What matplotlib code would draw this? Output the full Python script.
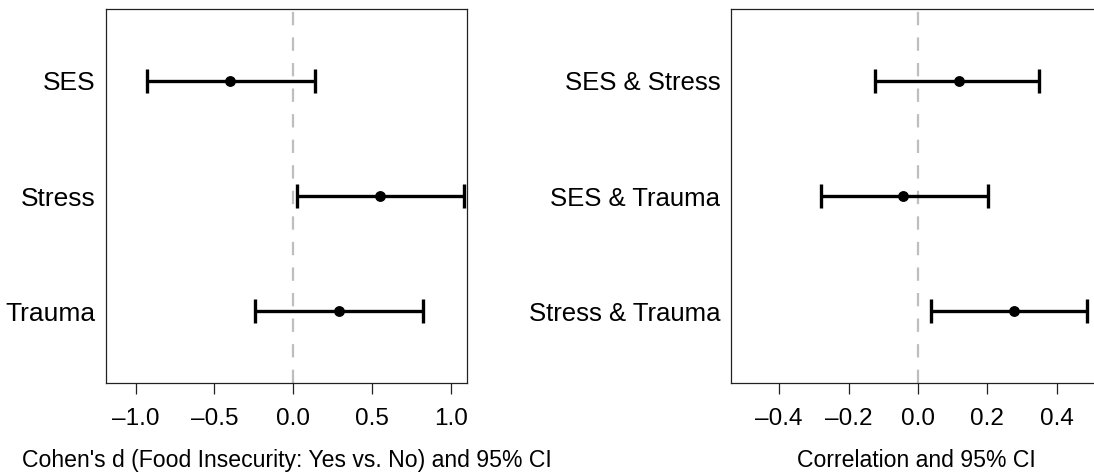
import numpy as np
import matplotlib.pyplot as plt

plt.rcParams['font.family'] = ['Liberation Sans', 'DejaVu Sans']

# --- Cohen's d panel ---
d_labels = ['SES', 'Stress', 'Trauma']
d_est = [-0.40, 0.55, 0.29]
d_lo = [-0.93, 0.02, -0.24]
d_hi = [0.14, 1.08, 0.82]
d_ticks = [-1.0, -0.5, 0.0, 0.5, 1.0]

# --- Correlation panel ---
r_labels = ['SES & Stress', 'SES & Trauma', 'Stress & Trauma']
r_est = [0.118, -0.042, 0.278]
r_lo = [-0.125, -0.280, 0.038]
r_hi = [0.349, 0.201, 0.487]
r_ticks = [-0.4, -0.2, 0.0, 0.2, 0.4]

fig = plt.figure(figsize=(10.94, 4.73), dpi=100)
ax1 = fig.add_axes([106 / 1094, 1 - 383 / 473, 361 / 1094, 374 / 473])
ax2 = fig.add_axes([730.7 / 1094, 1 - 383 / 473, 372 / 1094, 374 / 473])


def forest(ax, labels, est, lo, hi, ticks, xlim, xlabel, ysize):
    y = np.arange(len(labels), 0, -1)
    est = np.array(est)
    err = [est - np.array(lo), np.array(hi) - est]
    ax.axvline(0, color='#bebebe', lw=1.6, dashes=(6, 5.5), zorder=1)
    ax.errorbar(est, y, xerr=err, fmt='o', color='black', ms=6.8,
                elinewidth=2.4, capsize=8.3, capthick=2.4, zorder=3)
    ax.set_xlim(*xlim)
    ax.set_ylim(0.38, 3.62)
    ax.set_yticks(y)
    ax.set_yticklabels(labels)
    ax.set_xticks(ticks)
    ax.set_xticklabels([f'{t:.1f}'.replace('-', '\u2013') for t in ticks])
    ax.tick_params(axis='y', length=0, pad=7.5, labelsize=ysize)
    ax.tick_params(axis='x', length=8, width=0.9, pad=10, labelsize=17.5,
                   color='#222222')
    for s in ax.spines.values():
        s.set_linewidth(0.9)
        s.set_color('#222222')
    ax.set_xlabel(xlabel, fontsize=16.6, labelpad=14)


forest(ax1, d_labels, d_est, d_lo, d_hi, d_ticks, (-1.187, 1.100),
       "Cohen's d (Food Insecurity: Yes vs. No) and 95% CI", 19)
forest(ax2, r_labels, r_est, r_lo, r_hi, r_ticks, (-0.540, 0.533),
       'Correlation and 95% CI', 18.5)

fig.savefig('out.png', dpi=100)
